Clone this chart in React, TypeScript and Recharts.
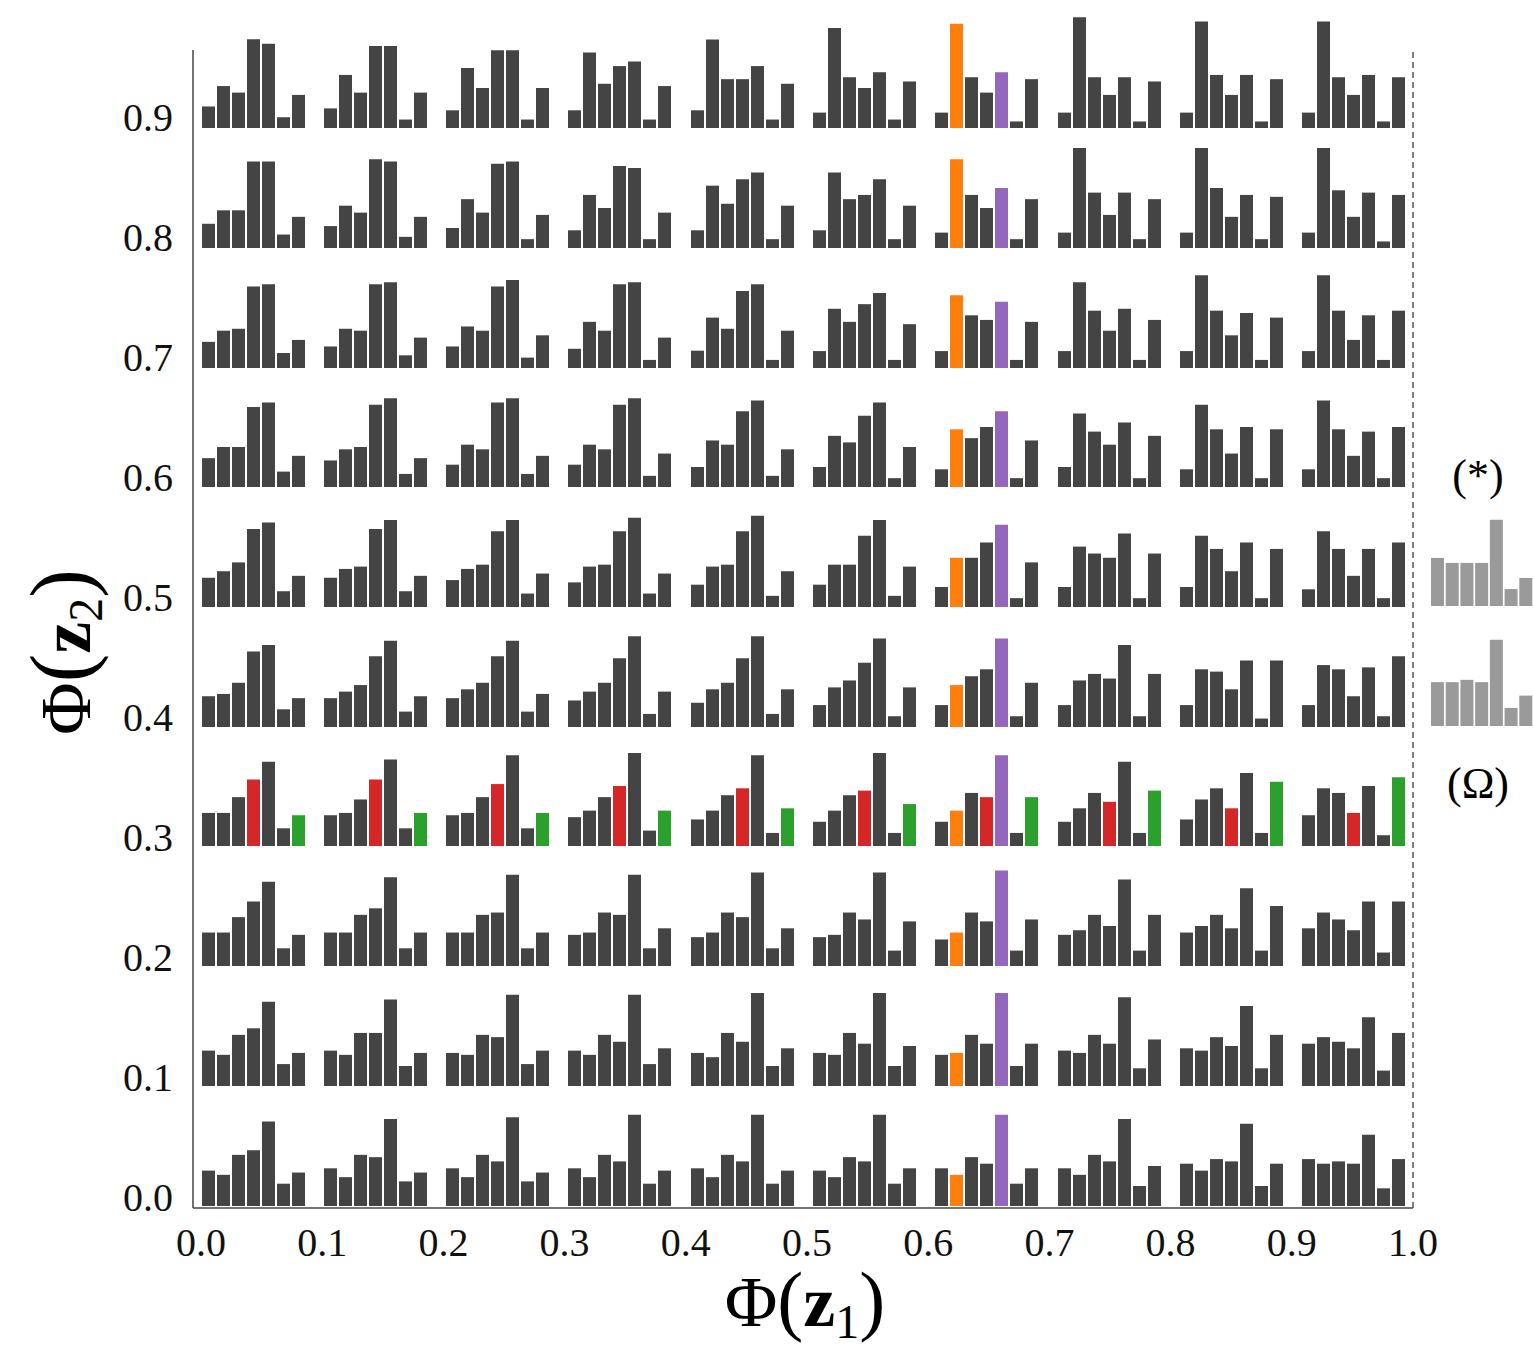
import React from 'react';
import {
  BarChart,
  Bar,
  XAxis,
  YAxis,
  Cell,
  ScatterChart,
  Scatter,
  ReferenceLine,
  Label,
} from 'recharts';

// ---------- tick labels / categories ----------
const X_TICKS = [0, 0.1, 0.2, 0.3, 0.4, 0.5, 0.6, 0.7, 0.8, 0.9, 1.0];
const Y_TICKS = [0, 0.1, 0.2, 0.3, 0.4, 0.5, 0.6, 0.7, 0.8, 0.9];
const BINS = ['b1', 'b2', 'b3', 'b4', 'b5', 'b6', 'b7'];

// ---------- histogram heights (one array per Φ(z2) row, 10 cells of 7 bins, columns Φ(z1)=0.0..0.9) ----------
const ROW_09 = [
  [56, 109, 92, 231, 219, 28, 86],
  [51, 138, 92, 213, 213, 22, 92],
  [46, 156, 104, 202, 202, 22, 104],
  [46, 196, 115, 161, 173, 22, 109],
  [46, 230, 127, 127, 161, 22, 115],
  [40, 260, 132, 104, 145, 22, 121],
  [40, 271, 132, 92, 145, 17, 127],
  [40, 288, 132, 86, 132, 17, 121],
  [40, 277, 138, 86, 138, 17, 127],
  [40, 277, 132, 86, 138, 17, 132],
];
const ROW_08 = [
  [63, 98, 98, 225, 225, 35, 81],
  [57, 110, 92, 231, 225, 29, 81],
  [52, 127, 92, 219, 225, 23, 86],
  [46, 138, 104, 213, 208, 23, 92],
  [46, 162, 115, 179, 196, 23, 110],
  [46, 196, 127, 138, 179, 23, 110],
  [40, 231, 138, 104, 156, 23, 127],
  [40, 260, 144, 86, 144, 23, 127],
  [40, 260, 156, 81, 138, 23, 133],
  [40, 260, 150, 81, 144, 17, 138],
];
const ROW_07 = [
  [68, 97, 102, 212, 218, 39, 73],
  [56, 102, 97, 218, 223, 33, 79],
  [56, 108, 97, 212, 229, 27, 85],
  [50, 120, 97, 218, 223, 21, 79],
  [45, 131, 102, 200, 218, 21, 97],
  [44, 154, 120, 166, 195, 21, 114],
  [44, 189, 137, 125, 172, 21, 120],
  [44, 223, 149, 97, 154, 21, 125],
  [44, 241, 149, 85, 143, 21, 131],
  [44, 241, 149, 73, 137, 21, 149],
];
const ROW_06 = [
  [75, 104, 104, 208, 220, 40, 81],
  [69, 98, 104, 214, 231, 34, 75],
  [58, 110, 98, 220, 231, 34, 81],
  [58, 110, 98, 214, 231, 29, 87],
  [52, 121, 110, 197, 225, 29, 98],
  [52, 133, 116, 185, 220, 23, 104],
  [46, 150, 127, 156, 197, 23, 121],
  [52, 191, 144, 110, 168, 23, 133],
  [46, 214, 150, 87, 156, 23, 150],
  [46, 225, 150, 81, 144, 23, 156],
];
const ROW_05 = [
  [76, 93, 116, 203, 220, 41, 81],
  [76, 99, 105, 203, 226, 41, 81],
  [70, 99, 110, 197, 226, 35, 87],
  [64, 105, 110, 197, 232, 35, 87],
  [58, 105, 110, 197, 237, 29, 93],
  [58, 110, 110, 185, 226, 29, 105],
  [52, 128, 128, 168, 214, 23, 116],
  [52, 157, 139, 128, 191, 23, 139],
  [52, 185, 151, 93, 168, 23, 151],
  [46, 197, 151, 81, 151, 23, 168],
];
const ROW_04 = [
  [80, 86, 115, 196, 213, 46, 75],
  [75, 92, 109, 184, 224, 40, 80],
  [75, 98, 115, 184, 224, 40, 86],
  [69, 92, 115, 179, 236, 34, 92],
  [63, 98, 115, 179, 236, 34, 98],
  [57, 103, 121, 167, 230, 28, 103],
  [57, 109, 132, 150, 230, 28, 115],
  [57, 121, 138, 126, 213, 28, 138],
  [57, 150, 144, 98, 173, 22, 173],
  [57, 161, 150, 80, 155, 28, 184],
];
const ROW_03 = [
  [86, 86, 127, 173, 219, 46, 80],
  [80, 86, 121, 173, 225, 46, 86],
  [80, 86, 127, 161, 236, 46, 86],
  [75, 92, 127, 156, 242, 40, 92],
  [69, 92, 132, 150, 236, 34, 98],
  [63, 92, 132, 144, 242, 34, 109],
  [63, 92, 138, 127, 236, 34, 127],
  [63, 98, 138, 115, 219, 34, 144],
  [69, 121, 150, 98, 190, 34, 167],
  [80, 150, 138, 86, 156, 28, 179],
];
const ROW_02 = [
  [87, 87, 127, 168, 219, 46, 81],
  [87, 87, 133, 150, 231, 46, 87],
  [87, 87, 133, 139, 237, 46, 87],
  [81, 87, 139, 133, 237, 46, 98],
  [75, 87, 139, 127, 243, 46, 98],
  [75, 81, 139, 121, 243, 40, 116],
  [69, 87, 139, 116, 248, 40, 121],
  [81, 93, 133, 104, 225, 40, 133],
  [87, 104, 133, 98, 202, 40, 156],
  [98, 139, 121, 93, 168, 35, 168],
];
const ROW_01 = [
  [92, 81, 133, 150, 219, 57, 86],
  [92, 81, 138, 138, 225, 52, 86],
  [86, 81, 133, 127, 237, 57, 92],
  [92, 81, 133, 115, 237, 57, 98],
  [86, 75, 138, 115, 242, 52, 98],
  [86, 81, 138, 110, 242, 52, 104],
  [81, 86, 133, 110, 242, 52, 110],
  [92, 86, 133, 110, 231, 46, 121],
  [98, 92, 127, 104, 208, 46, 133],
  [110, 127, 115, 98, 179, 40, 138],
];
const ROW_00 = [
  [92, 81, 133, 145, 220, 58, 87],
  [98, 75, 133, 127, 226, 64, 87],
  [98, 75, 133, 116, 231, 64, 87],
  [98, 75, 133, 116, 237, 58, 92],
  [98, 75, 133, 116, 237, 58, 92],
  [92, 75, 127, 116, 237, 58, 98],
  [98, 81, 127, 110, 237, 58, 98],
  [98, 81, 133, 116, 226, 52, 104],
  [110, 92, 122, 116, 214, 52, 110],
  [122, 110, 116, 110, 185, 46, 122],
];
// rows from Φ(z2)=0.0 up to 0.9
const ROWS = [ROW_00, ROW_01, ROW_02, ROW_03, ROW_04, ROW_05, ROW_06, ROW_07, ROW_08, ROW_09];

// reference histograms on the right
const REF_STAR = [125, 112, 112, 112, 224, 44, 73];
const REF_OMEGA = [114, 114, 120, 114, 224, 47, 79];

// highlighted bins
const HIGHLIGHT_COL = 6; // Φ(z1)=0.6
const HIGHLIGHT_ROW = 3; // Φ(z2)=0.3

// ---------- styles / layout ----------
const DARK = '#444444';
const ORANGE = '#ff7f0e';
const PURPLE = '#9467bd';
const RED = '#d62728';
const GREEN = '#2ca02c';
const REF_GRAY = '#9a9a9a';
const FONT = '"Liberation Serif", "Times New Roman", serif';

const CELL_W = 105;
const CELL_H = 120;
const CELL_DOMAIN_MAX = 312;
const CELL_X0 = 200.5;
const CELL_DX = 122.3;
const CELL_BASE0 = 1205.5;
const CELL_DY = 119.7;

function binColor(row: number, col: number, bin: number): string {
  if (col === HIGHLIGHT_COL && bin === 1) return ORANGE;
  if (col === HIGHLIGHT_COL && bin === 4) return PURPLE;
  if (row === HIGHLIGHT_ROW && bin === 3) return RED;
  if (row === HIGHLIGHT_ROW && bin === 6) return GREEN;
  return DARK;
}

function Hist(props: {
  values: number[];
  colors: string[];
  left: number;
  bottom: number;
  width?: number;
}) {
  const { values, colors, left, bottom } = props;
  const width = props.width ?? CELL_W;
  const data = values.map((v, i) => ({ bin: BINS[i], v }));
  return (
    <div style={{ position: 'absolute', left, top: bottom - CELL_H, width, height: CELL_H }}>
      <BarChart
        width={width}
        height={CELL_H}
        data={data}
        margin={{ top: 0, right: 0, bottom: 0, left: 0 }}
        barCategoryGap={1}
      >
        <XAxis dataKey="bin" hide />
        <YAxis hide domain={[0, CELL_DOMAIN_MAX]} />
        <Bar dataKey="v" isAnimationActive={false} barSize={13}>
          {data.map((d, i) => (
            <Cell key={d.bin} fill={colors[i]} />
          ))}
        </Bar>
      </BarChart>
    </div>
  );
}

const XTitle = () => (
  <text x={805} y={1326} textAnchor="middle" fontFamily={FONT} fill="#000">
    <tspan fontSize={72}>Φ</tspan>
    <tspan fontSize={78}>(</tspan>
    <tspan fontSize={72} fontWeight="bold">z</tspan>
    <tspan fontSize={48} dy={12}>1</tspan>
    <tspan fontSize={78} dy={-12}>)</tspan>
  </text>
);

const YTitle = () => (
  <text
    x={90}
    y={652}
    transform="rotate(-90, 90, 652)"
    textAnchor="middle"
    fontFamily={FONT}
    fill="#000"
  >
    <tspan fontSize={72}>Φ</tspan>
    <tspan fontSize={86}>(</tspan>
    <tspan fontSize={72} fontWeight="bold">z</tspan>
    <tspan fontSize={48} dy={12}>2</tspan>
    <tspan fontSize={86} dy={-12}>)</tspan>
  </text>
);

export default function App() {
  const tickStyle = { fontFamily: FONT, fontSize: 40, fill: '#111' };
  return (
    <div
      style={{
        position: 'absolute',
        left: 0,
        top: 0,
        width: 1533,
        height: 1347,
        background: '#fff',
        overflow: 'hidden',
      }}
    >
      <div style={{ position: 'absolute', left: 0, top: 0 }}>
        <ScatterChart
          width={1533}
          height={1347}
          margin={{ top: 50, right: 120, bottom: 79, left: 93 }}
        >
          <XAxis
            type="number"
            dataKey="x"
            domain={[-0.0066, 1]}
            ticks={X_TICKS}
            interval={0}
            allowDataOverflow
            height={60}
            tickSize={0}
            tickMargin={20}
            tickFormatter={(v: number) => v.toFixed(1)}
            tick={tickStyle}
            axisLine={{ stroke: '#444', strokeWidth: 1.5 }}
          >
            <Label content={() => <XTitle />} />
          </XAxis>
          <YAxis
            type="number"
            dataKey="y"
            domain={[-0.009, 0.956]}
            ticks={Y_TICKS}
            interval={0}
            allowDataOverflow
            width={100}
            tickSize={0}
            tickMargin={20}
            tickFormatter={(v: number) => v.toFixed(1)}
            tick={tickStyle}
            axisLine={{ stroke: '#444', strokeWidth: 1.5 }}
          >
            <Label content={() => <YTitle />} />
          </YAxis>
          <ReferenceLine x={1} stroke="#555" strokeWidth={1.5} strokeDasharray="6 4" />
          <Scatter data={[]} isAnimationActive={false} />
        </ScatterChart>
      </div>

      {ROWS.map((row, r) =>
        row.map((vals, c) => (
          <Hist
            key={`${r}-${c}`}
            values={vals}
            colors={vals.map((_, b) => binColor(r, c, b))}
            left={CELL_X0 + c * CELL_DX}
            bottom={CELL_BASE0 - r * CELL_DY}
          />
        ))
      )}

      <Hist values={REF_STAR} colors={REF_STAR.map(() => REF_GRAY)} left={1430} bottom={606} width={103} />
      <Hist values={REF_OMEGA} colors={REF_OMEGA.map(() => REF_GRAY)} left={1430} bottom={726} width={103} />

      <div
        style={{
          position: 'absolute',
          left: 1418,
          width: 120,
          top: 448,
          textAlign: 'center',
          fontFamily: FONT,
          fontSize: 44,
          lineHeight: '56px',
          color: '#000',
        }}
      >
        (*)
      </div>
      <div
        style={{
          position: 'absolute',
          left: 1418,
          width: 120,
          top: 756,
          textAlign: 'center',
          fontFamily: FONT,
          fontSize: 44,
          lineHeight: '56px',
          color: '#000',
        }}
      >
        (Ω)
      </div>
    </div>
  );
}
